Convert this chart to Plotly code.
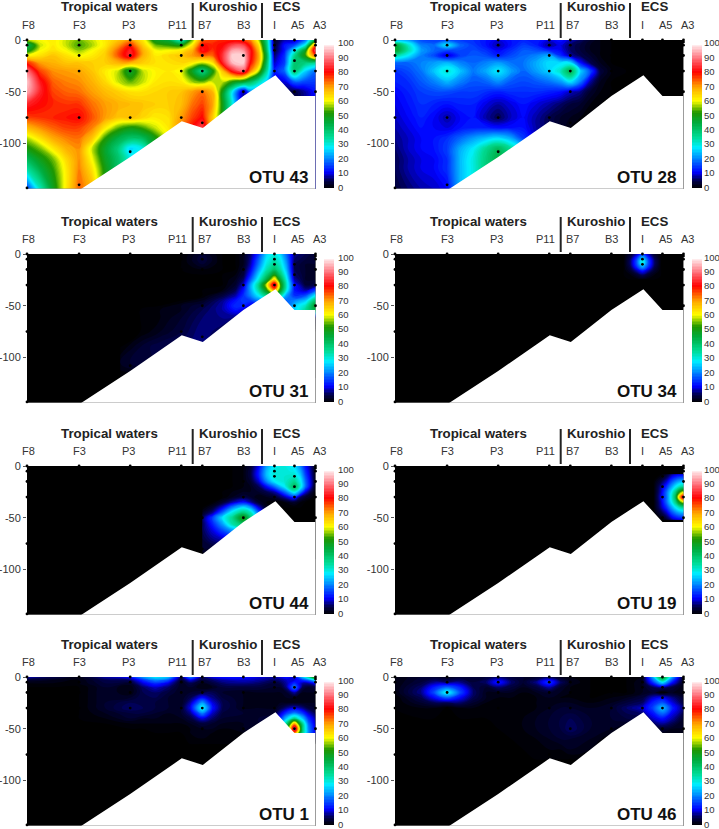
import plotly.graph_objects as go

W, H = 719, 829
FONT = "Liberation Sans"

station_names = ["F8", "F3", "P3", "P11", "B7", "B3", "I", "A5", "A3"]
station_label_x = [28.5, 79.7, 128, 177, 204, 243, 274.6, 297, 319]
colorbar_ticks = [0, 10, 20, 30, 40, 50, 60, 70, 80, 90, 100]

sample_x = [27,27,27,27,27,27, 79,79,79,79,79,79, 130,130,130,130,130,130, 181,181,181,181,181,
            202,202,202,202,202,202, 243,243,243,243, 274,274,274,274, 294,294,294,294,294,
            315,315,315,315,315,315]
sample_depth = [0,-5,-15,-30,-75,-143, 0,-5,-15,-30,-75,-140, 0,-5,-15,-30,-75,-108, 0,-5,-15,-30,-75,
                0,-5,-15,-30,-50,-80, 0,-15,-30,-50, 0,-5,-10,-30, 0,-10,-20,-30,-50,
                0,-2,-5,-15,-30,-50]

floor_x = [27, 81, 130, 181.5, 202.5, 243, 275, 294, 315, 315, 81]
floor_depth = [-144, -144, -113, -78.6, -85, -54, -34, -54, -54, -144, -144]

otu43_x = [27,40,53,66,79,92,105,118,130,143,155,168,181,192,202,212,222,232,243,250,258,266,274,284,294,305,315]
otu43_y = [0,-5,-10,-15,-22,-30,-40,-50,-62,-75,-85,-95,-105,-115,-125,-144]
otu43_z = [
 [57,60,62,58,55,58,62,66,70,62,48,45,30,55,73,76,78,78,76,72,58,38,3,8,8,18,45],
 [42,58,62,58,53,57,62,70,78,65,55,52,50,62,80,78,80,86,86,78,64,40,3,12,16,30,74],
 [48,60,63,60,56,60,64,74,83,68,60,60,62,68,82,77,82,93,92,82,68,42,4,12,28,48,88],
 [60,63,66,63,60,62,65,75,84,68,62,64,66,70,74,74,84,97,97,82,70,45,6,14,36,52,76],
 [78,70,68,66,66,65,65,68,68,65,63,63,64,62,58,62,82,95,97,80,68,42,9,15,40,38,36],
 [90,76,71,70,69,66,62,58,47,58,61,62,60,48,36,50,66,82,88,72,58,36,12,18,40,26,18],
 [96,82,74,72,71,68,64,58,54,58,62,63,62,56,54,58,58,52,48,42,34,26,10,10,18,16,15],
 [94,83,76,74,73,70,67,65,63,63,64,65,66,70,73,68,50,28,6,20,20,20,10,6,4,8,12],
 [83,80,78,77,77,73,70,68,67,66,65,65,67,73,76,70,50,30,6,20,20,20,10,6,4,8,12],
 [76,77,78,79,80,75,70,66,67,64,62,63,70,76,80,66,50,30,6,20,20,20,10,6,4,8,12],
 [67,71,74,76,76,72,62,54,50,53,58,62,72,80,86,66,50,30,6,20,20,20,10,6,4,8,12],
 [57,63,69,72,73,66,52,44,40,42,50,60,72,80,86,66,50,30,6,20,20,20,10,6,4,8,12],
 [50,55,62,68,71,58,47,38,26,30,50,60,72,80,86,66,50,30,6,20,20,20,10,6,4,8,12],
 [42,49,55,64,71,60,48,40,30,30,50,60,72,80,86,66,50,30,6,20,20,20,10,6,4,8,12],
 [34,44,52,62,72,63,50,40,30,30,50,60,72,80,86,66,50,30,6,20,20,20,10,6,4,8,12],
 [14,32,48,62,74,68,50,40,30,30,50,60,72,80,86,66,50,30,6,20,20,20,10,6,4,8,12],
]

otu28_x = [27,40,53,66,79,92,105,118,130,143,155,168,181,192,202,212,222,232,243,258]
otu28_y = [0,-5,-10,-15,-22,-30,-40,-50,-62,-75,-85,-95,-105,-115,-125,-144]
otu28_z = [
 [22,22,16,15,16,15,14,12,10,12,13,13,10,12,9,6,3,1,0,0],
 [47,32,20,18,28,18,15,12,8,12,15,13,7,10,6,4,2,1,0,0],
 [48,34,22,18,16,16,16,14,11,14,17,16,13,11,6,4,2,1,0,0],
 [35,28,20,16,9,15,17,16,13,16,18,20,23,14,8,5,3,1,0,0],
 [18,18,20,22,24,20,18,20,22,19,19,23,27,27,27,12,5,2,0,0],
 [14,16,19,25,31,25,19,23,28,22,18,22,26,32,44,26,16,4,1,0],
 [13,14,17,20,24,20,17,18,21,17,16,17,19,22,28,20,8,2,0,0],
 [11,13,15,16,16,15,15,14,13,14,14,14,13,12,9,7,3,1,0,0],
 [10,12,14,13,12,13,13,10,8,10,12,10,8,6,4,3,1,0,0,0],
 [9,11,13,11,8,11,12,8,5,9,11,8,5,3,2,1,0,0,0,0],
 [8,10,12,11,10,12,13,13,12,12,12,8,5,3,1,0,0,0,0,0],
 [7,9,11,12,14,18,22,25,27,23,15,9,5,3,1,0,0,0,0,0],
 [6,9,11,12,15,23,28,36,42,35,25,9,5,3,1,0,0,0,0,0],
 [5,8,10,11,14,24,30,38,44,38,25,9,5,3,1,0,0,0,0,0],
 [5,8,10,11,14,24,30,38,40,38,25,9,5,3,1,0,0,0,0,0],
 [4,6,8,9,11,24,30,38,40,38,25,9,5,3,1,0,0,0,0,0],
]

otu31_x = [120,140,160,181,202,222,235,243,250,258,266,274,280,286,294,305,315]
otu31_y = [0,-5,-10,-15,-20,-25,-30,-35,-40,-45,-50,-54,-62,-75,-90,-105,-120]
otu31_z = [
 [0,0,0,0,3,0,0,2,6,14,26,30,26,18,7,5,3],
 [0,0,0,0,4,0,0,2,7,17,28,33,29,20,6,4,4],
 [0,0,0,0,3,0,0,2,8,19,30,36,31,22,5,3,3],
 [0,0,0,0,1,0,0,3,10,22,33,40,34,24,5,3,3],
 [0,0,0,0,0,0,1,4,13,26,38,50,39,27,6,3,3],
 [0,0,0,0,0,0,2,6,17,30,45,65,46,30,8,3,3],
 [0,0,0,0,0,0,3,9,22,36,58,88,52,32,12,4,5],
 [0,0,0,0,0,1,5,12,22,34,50,70,48,30,12,8,16],
 [0,0,0,0,0,4,8,14,20,28,38,45,35,22,14,16,28],
 [0,0,0,0,2,7,12,15,15,20,20,20,20,18,20,25,40],
 [0,0,0,2,4,8,14,13,10,10,10,10,10,15,25,32,48],
 [0,0,1,2,5,8,12,10,8,8,8,8,10,15,25,35,45],
 [0,0,1,3,6,7,6,5,5,5,5,5,5,5,5,5,5],
 [0,0,2,4,7,5,0,0,0,0,0,0,0,0,0,0,0],
 [0,3,5,5,7,0,0,0,0,0,0,0,0,0,0,0,0],
 [2,4,4,0,0,0,0,0,0,0,0,0,0,0,0,0,0],
 [0,0,0,0,0,0,0,0,0,0,0,0,0,0,0,0,0],
]

otu34_x = [255,262,268,274,280,286,293]
otu34_y = [0,-4,-8,-12,-16,-20,-25]
otu34_z = [
 [0,3,8,14,8,3,0],
 [0,5,14,26,14,5,0],
 [0,6,16,32,16,6,0],
 [0,5,14,24,14,5,0],
 [0,3,8,13,8,3,0],
 [0,1,3,6,3,1,0],
 [0,0,0,0,0,0,0],
]

otu44_x = [202,212,222,232,243,250,258,266,274,284,294,300,305,315]
otu44_y = [0,-5,-10,-15,-20,-25,-30,-35,-40,-45,-50,-56,-62,-70,-80,-90]
otu44_z = [
 [0,0,0,0,1,3,10,22,28,30,27,20,12,2],
 [0,0,0,0,1,4,12,24,31,31,29,23,14,2],
 [0,0,0,0,1,4,12,24,31,31,32,26,16,2],
 [0,0,0,0,1,3,9,20,28,31,36,29,18,2],
 [0,0,0,0,1,2,5,11,18,28,42,30,18,1],
 [0,0,0,1,2,2,3,5,8,18,30,20,10,0],
 [0,0,0,2,4,3,1,2,3,8,14,6,3,0],
 [0,0,3,8,12,8,3,1,0,1,3,1,0,0],
 [0,3,10,20,27,22,10,2,0,0,0,0,0,0],
 [2,7,18,30,38,33,18,5,0,0,0,0,0,0],
 [5,15,27,36,52,38,22,6,0,0,0,0,0,0],
 [5,13,22,34,40,30,16,4,0,0,0,0,0,0],
 [5,10,16,22,24,18,8,2,0,0,0,0,0,0],
 [4,7,9,10,8,5,2,0,0,0,0,0,0,0],
 [3,3,3,2,1,0,0,0,0,0,0,0,0,0],
 [0,0,0,0,0,0,0,0,0,0,0,0,0,0],
]

otu19_x = [285,292,298,303,307,311,315]
otu19_y = [-8,-15,-20,-25,-30,-35,-40,-45,-52]
otu19_z = [
 [0,0,3,7,9,10,10],
 [0,4,9,16,20,23,24],
 [0,7,14,22,28,33,36],
 [0,8,18,28,37,50,59],
 [0,9,18,30,42,67,88],
 [0,8,18,28,37,50,59],
 [0,7,14,22,28,33,36],
 [0,4,9,16,20,23,24],
 [0,0,3,7,9,10,10],
]

otu1_x = [27,53,79,105,130,143,155,168,181,190,202,212,222,243,258,274,280,286,294,302,308,315]
otu1_y = [0,-3,-6,-10,-15,-20,-25,-30,-35,-40,-45,-50,-54,-65]
otu1_z = [
 [9,5,2,8,12,22,28,25,5,20,6,10,12,12,10,8,10,12,10,25,36,58],
 [3,2,1,5,6,14,20,16,3,10,4,6,8,9,8,6,7,9,10,14,18,28],
 [1,1,1,4,3,10,14,10,2,5,2,4,6,7,6,4,5,8,14,8,8,12],
 [0,0,0,3,1,6,9,6,2,3,1,2,4,4,4,3,3,7,20,5,3,4],
 [0,0,0,3,1,5,6,4,2,3,4,5,3,2,2,2,2,3,8,2,2,2],
 [0,0,0,3,3,5,5,3,2,5,12,7,4,2,2,2,2,2,2,2,2,2],
 [0,0,0,3,5,5,4,3,2,8,22,10,5,2,2,2,2,2,2,2,2,2],
 [0,0,0,3,6,5,4,3,3,10,30,12,5,2,2,2,4,7,10,7,4,3],
 [0,0,0,2,4,4,3,2,3,7,20,9,4,3,3,3,9,15,20,15,9,5],
 [0,0,0,1,3,2,2,2,2,4,10,6,3,3,3,5,14,25,36,25,14,8],
 [0,0,0,0,1,1,1,1,1,2,4,3,2,2,3,8,18,36,68,36,18,9],
 [0,0,0,0,0,0,1,1,1,1,2,2,1,2,3,10,20,38,92,38,20,10],
 [0,0,0,0,0,0,0,0,0,1,2,1,1,1,2,10,20,36,72,36,20,10],
 [0,0,0,0,0,0,0,0,0,0,0,0,0,0,0,0,0,0,0,0,0,0],
]

otu46_x = [27,53,66,79,92,105,118,130,143,155,168,181,192,202,222,243,258,274,284,294,304,315]
otu46_y = [0,-5,-10,-15,-20,-25,-30,-40,-50,-60,-70,-80]
otu46_z = [
 [1,3,3,2,3,3,4,6,4,3,3,5,2,1,0,0,0,1,22,50,22,2],
 [1,4,7,6,7,4,6,13,6,3,7,15,6,2,0,0,0,2,14,28,12,2],
 [1,6,13,18,13,5,3,6,4,2,4,8,3,1,0,0,0,2,5,7,4,1],
 [1,7,16,30,16,6,2,2,2,1,2,3,2,1,0,0,0,2,3,0,2,1],
 [0,5,11,17,11,5,2,1,1,1,1,2,1,1,0,1,2,4,9,11,7,3],
 [0,3,5,5,6,3,1,1,1,1,1,2,2,2,1,2,4,6,13,17,10,4],
 [0,1,1,0,1,1,1,1,1,1,1,2,3,3,2,3,6,9,15,25,13,6],
 [0,0,0,0,0,0,0,1,1,1,2,3,4,5,3,3,4,4,9,12,8,3],
 [0,0,0,0,0,0,0,0,1,1,2,3,4,6,3,2,1,1,2,3,2,2],
 [0,0,0,0,0,0,0,0,0,1,1,2,3,3,2,0,0,0,0,0,0,0],
 [0,0,0,0,0,0,0,0,0,0,1,1,1,2,1,0,0,0,0,0,0,0],
 [0,0,0,0,0,0,0,0,0,0,0,0,0,0,0,0,0,0,0,0,0,0],
]

panel_names = ["OTU 43", "OTU 28", "OTU 31", "OTU 34", "OTU 44", "OTU 19", "OTU 1", "OTU 46"]
panel_x = [otu43_x, otu28_x, otu31_x, otu34_x, otu44_x, otu19_x, otu1_x, otu46_x]
panel_y = [otu43_y, otu28_y, otu31_y, otu34_y, otu44_y, otu19_y, otu1_y, otu46_y]
panel_z = [otu43_z, otu28_z, otu31_z, otu34_z, otu44_z, otu19_z, otu1_z, otu46_z]

for nm, xs, ys, zs in zip(panel_names, panel_x, panel_y, panel_z):
    assert len(zs) == len(ys), nm
    for r in zs:
        assert len(r) == len(xs), (nm, r)

colorscale = [
    [0.00, "#000000"], [0.05, "#00004a"], [0.11, "#0000ff"], [0.20, "#0082ff"],
    [0.28, "#00f0ff"], [0.35, "#00dc96"], [0.45, "#00aa3c"], [0.52, "#1e9600"],
    [0.60, "#ffff00"], [0.70, "#ffa000"], [0.80, "#ff0000"], [0.90, "#ff7882"],
    [1.00, "#ffffff"],
]

lefts = [27, 395]
tops = [40, 254, 466, 677]
PW, PH = 288.5, 149
X0, X1 = 27, 315
Y0, Y1 = -144, 0

fig = go.Figure()
shapes, annotations = [], []
layout_axes = {}


def px(x):
    return x / W


def py(y):
    return 1 - y / H


for i, name in enumerate(panel_names):
    col, row = i % 2, i // 2
    L, T = lefts[col], tops[row]
    suffix = "" if i == 0 else str(i + 1)
    xa, ya = "x" + suffix, "y" + suffix
    layout_axes["xaxis" + suffix] = dict(
        domain=[px(L), px(L + PW)], range=[X0, X1], anchor=ya,
        showgrid=False, zeroline=False, showticklabels=False, ticks="", showline=False)
    layout_axes["yaxis" + suffix] = dict(
        domain=[py(T + PH), py(T)], range=[Y0, Y1], anchor=xa,
        showgrid=False, zeroline=False, tickmode="array", tickvals=[0, -50, -100],
        ticktext=["0", "-50", "-100"], ticks="outside", ticklen=3, tickcolor="#555",
        tickfont=dict(family=FONT, size=11, color="#333"), showline=False)

    fig.add_trace(go.Contour(
        x=panel_x[i], y=panel_y[i], z=panel_z[i], zmin=0, zmax=100, autocontour=False,
        contours=dict(coloring="fill", start=0, end=100, size=1, showlines=False),
        line=dict(width=0, smoothing=1.3),
        colorscale=colorscale, xaxis=xa, yaxis=ya, hoverinfo="skip",
        colorbar=dict(
            x=px(L + 297), xanchor="left", y=py(T + 3), yanchor="top",
            lenmode="pixels", len=145, thicknessmode="pixels", thickness=10,
            xpad=0, ypad=0, outlinewidth=0, borderwidth=0,
            ticks="", showticklabels=False),
    ))
    fig.add_trace(go.Scatter(
        x=floor_x, y=floor_depth, mode="lines", fill="toself", fillcolor="white",
        line=dict(width=0), xaxis=xa, yaxis=ya, hoverinfo="skip", showlegend=False))
    fig.add_trace(go.Scatter(
        x=[X1, X1, X0], y=[Y1, Y0, Y0], mode="lines", line=dict(color="#999", width=1),
        xaxis=xa, yaxis=ya, hoverinfo="skip", showlegend=False, cliponaxis=False))
    fig.add_trace(go.Scatter(
        x=sample_x, y=sample_depth, mode="markers", marker=dict(color="black", size=2.8),
        xaxis=xa, yaxis=ya, hoverinfo="skip", showlegend=False, cliponaxis=False))

    dx = L - 27
    for label, cx in [("Tropical waters", 110), ("Kuroshio", 228), ("ECS", 286)]:
        annotations.append(dict(
            x=px(cx + dx), y=py(T - 33), xref="paper", yref="paper", text=label, showarrow=False,
            xanchor="center", yanchor="middle",
            font=dict(family=FONT, size=13.3, color="#222", weight="bold")))
    for label, lx in zip(station_names, station_label_x):
        annotations.append(dict(
            x=px(lx + dx), y=py(T - 15), xref="paper", yref="paper", text=label, showarrow=False,
            xanchor="center", yanchor="middle", font=dict(family=FONT, size=11, color="#333")))
    annotations.append(dict(
        x=px(311 + dx), y=py(T + 137), xref="paper", yref="paper", text=name, showarrow=False,
        xanchor="right", yanchor="middle", font=dict(family=FONT, size=17, color="#111", weight="bold")))
    for sx in (192.7, 262):
        shapes.append(dict(type="line", xref="paper", yref="paper",
                           x0=px(sx + dx), x1=px(sx + dx), y0=py(T - 37), y1=py(T - 2),
                           line=dict(color="#222", width=2)))
    for t in colorbar_ticks:
        annotations.append(dict(
            x=px(L + (309.5 if col == 0 else 307.5)), y=py(T + 147 - t * 1.44), xref="paper", yref="paper",
            text=str(t), showarrow=False, xanchor="left", yanchor="middle", borderpad=0,
            font=dict(family=FONT, size=9.5, color="#333")))

fig.update_layout(
    width=W, height=H, margin=dict(l=0, r=0, t=0, b=0, autoexpand=False), paper_bgcolor="white",
    plot_bgcolor="black", showlegend=False, shapes=shapes, annotations=annotations, **layout_axes)

fig.write_html("out.html", post_script="document.body.style.margin='0';",
               config={"displayModeBar": False})
